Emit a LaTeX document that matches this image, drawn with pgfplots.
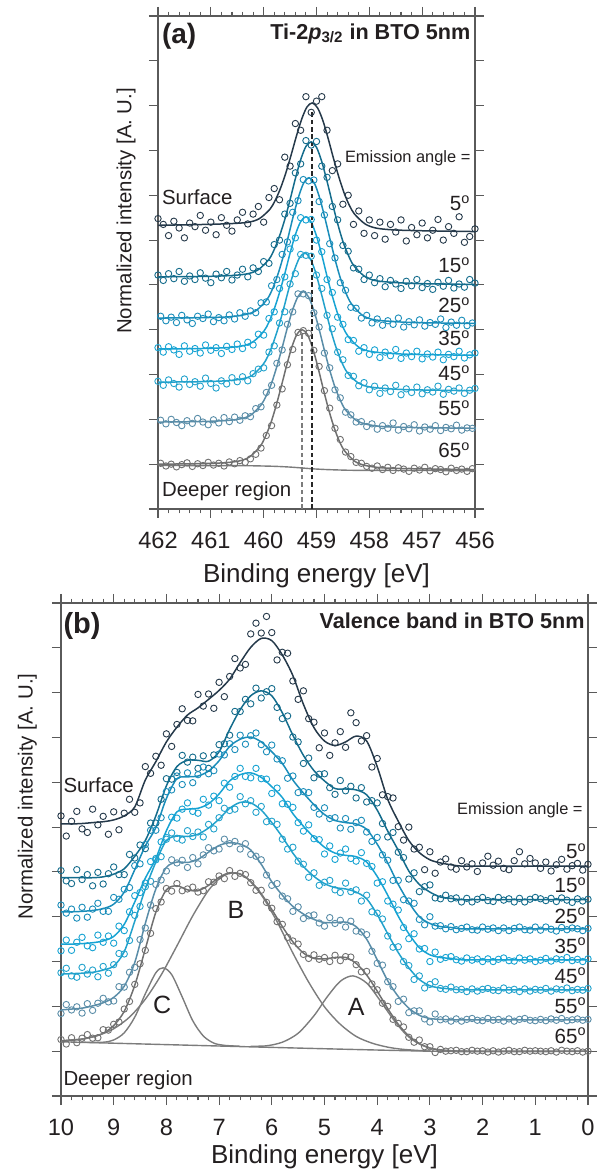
\documentclass[border=0pt]{standalone}
\usepackage{fontspec}
\setmainfont{Liberation Sans}
\usepackage{xcolor}
\usepackage{pgfplots}
\usepackage{pgfplotstable}
\pgfplotsset{compat=1.18}

\definecolor{c5}{HTML}{25394A}
\definecolor{c15}{HTML}{146C8C}
\definecolor{c25}{HTML}{1A8DBA}
\definecolor{c35}{HTML}{17A3D3}
\definecolor{c45}{HTML}{22A2CC}
\definecolor{c55}{HTML}{5A8DA8}
\definecolor{c65}{HTML}{707070}
\definecolor{cgray}{HTML}{7C7C7C}
\definecolor{axgray}{HTML}{5A5A5A}
\definecolor{txt}{HTML}{231F20}

% Ti-2p data, grid with centre 459.1/459.2
\pgfplotstableread{
x a5 a15 a35 a45
462.0 6.48 5.22 3.60 2.85
461.9 6.35 5.10 3.50 2.76
461.8 6.10 5.25 3.62 2.88
461.7 6.42 5.14 3.55 2.80
461.6 6.27 5.30 3.45 2.72
461.5 6.05 5.08 3.64 2.90
461.4 6.38 5.20 3.52 2.78
461.3 6.30 5.12 3.58 2.84
461.2 6.55 5.27 3.48 2.74
461.1 6.22 5.15 3.66 2.92
461.0 6.40 5.05 3.54 2.80
460.9 6.12 5.24 3.60 2.70
460.8 6.50 5.16 3.47 2.86
460.7 6.33 5.30 3.63 2.79
460.6 6.20 5.11 3.56 2.93
460.5 6.45 5.22 3.68 2.84
460.4 6.62 5.35 3.58 2.95
460.3 6.36 5.18 3.72 2.86
460.2 6.58 5.38 3.66 3.02
460.1 6.75 5.30 3.90 3.12
460.0 6.40 5.52 3.88 3.15
459.9 6.95 5.48 4.25 3.50
459.8 7.15 5.90 4.40 3.64
459.7 6.90 6.00 4.92 4.15
459.6 7.85 6.58 5.18 4.40
459.5 7.65 6.82 5.80 5.02
459.4 8.60 7.50 6.05 5.25
459.3 8.45 7.70 6.50 5.68
459.2 9.20 8.22 6.45 5.66
459.1 8.85 8.12 6.46 5.64
459.0 9.10 8.20 6.00 5.22
458.9 9.20 7.65 5.74 4.92
458.8 8.45 7.40 5.12 4.32
458.7 7.55 6.75 4.83 4.02
458.6 7.70 6.45 4.28 3.50
458.5 6.80 5.88 4.12 3.33
458.4 7.00 5.75 3.78 2.98
458.3 6.35 5.38 3.76 2.96
458.2 6.65 5.35 3.52 2.75
458.1 6.15 5.12 3.60 2.82
458.0 6.45 5.22 3.45 2.66
457.9 6.10 5.05 3.55 2.74
457.8 6.40 5.14 3.38 2.58
457.7 6.02 4.96 3.50 2.70
457.6 6.35 5.10 3.42 2.62
457.5 6.18 5.02 3.56 2.76
457.4 6.45 4.92 3.36 2.55
457.3 5.98 5.08 3.48 2.68
457.2 6.28 4.98 3.40 2.60
457.1 6.12 5.12 3.52 2.72
457.0 6.38 4.94 3.35 2.57
456.9 6.05 5.03 3.46 2.66
456.8 6.22 4.90 3.39 2.61
456.7 6.46 5.06 3.50 2.74
456.6 6.00 4.97 3.33 2.56
456.5 6.30 5.10 3.45 2.67
456.4 6.15 4.93 3.40 2.63
456.3 6.52 5.02 3.52 2.70
456.2 5.95 4.95 3.37 2.58
456.1 6.08 5.12 3.44 2.65
456.0 6.25 5.04 3.48 2.69
}\dataAa

% Ti-2p data, grid with centre 459.15/459.25
\pgfplotstableread{
x a25 a55 a65
461.95 4.30 1.98 1.02
461.85 4.20 1.90 0.96
461.75 4.28 2.00 1.00
461.65 4.16 1.93 0.94
461.55 4.32 1.86 0.99
461.45 4.22 1.97 1.03
461.35 4.14 1.91 0.95
461.25 4.30 2.02 1.01
461.15 4.25 1.94 0.97
461.05 4.35 1.88 1.04
460.95 4.18 1.99 0.98
460.85 4.27 1.92 1.02
460.75 4.20 2.04 0.96
460.65 4.33 1.95 1.05
460.55 4.24 2.05 1.01
460.45 4.38 1.98 1.08
460.35 4.30 2.08 1.04
460.25 4.42 2.06 1.12
460.15 4.38 2.24 1.22
460.05 4.60 2.28 1.36
459.95 4.62 2.60 1.64
459.85 4.98 2.76 1.86
459.75 5.12 3.25 2.32
459.65 5.68 3.55 2.68
459.55 5.96 4.12 3.22
459.45 6.62 4.40 3.56
459.35 6.88 4.80 3.94
459.25 7.35 4.80 3.98
459.15 7.32 4.76 3.92
459.05 7.34 4.38 3.54
458.95 6.86 4.06 3.18
458.85 6.56 3.48 2.64
458.75 5.92 3.15 2.25
458.65 5.60 2.66 1.80
458.55 5.05 2.48 1.55
458.45 4.88 2.16 1.27
458.35 4.50 2.10 1.17
458.25 4.48 1.94 1.04
458.15 4.26 1.95 1.02
458.05 4.32 1.84 0.95
457.95 4.15 1.90 0.91
457.85 4.24 1.78 0.96
457.75 4.10 1.86 0.88
457.65 4.20 1.80 0.93
457.55 4.12 1.92 0.86
457.45 4.26 1.76 0.92
457.35 4.06 1.84 0.89
457.25 4.18 1.79 0.84
457.15 4.11 1.88 0.91
457.05 4.22 1.74 0.87
456.95 4.08 1.83 0.93
456.85 4.16 1.78 0.85
456.75 4.12 1.86 0.90
456.65 4.24 1.75 0.88
456.55 4.05 1.82 0.83
456.45 4.17 1.79 0.91
456.35 4.10 1.87 0.86
456.25 4.21 1.76 0.89
456.15 4.09 1.81 0.84
456.05 4.15 1.80 0.90
}\dataAb

% valence band data
\pgfplotstableread{
E d5 d15 d25 d35 d45 d55 d65
10.0 6.25 5.03 4.26 3.24 2.75 1.84 1.26
9.9 5.80 4.80 4.08 3.48 2.85 2.04 1.16
9.8 6.13 4.74 4.17 3.25 2.68 1.92 1.30
9.7 6.35 5.05 3.97 3.43 2.65 1.99 1.19
9.6 5.96 4.83 4.21 3.54 2.87 1.85 1.29
9.5 5.88 4.94 3.99 3.35 2.72 2.06 1.37
9.4 6.40 4.69 4.17 3.31 2.81 1.91 1.29
9.3 6.05 4.99 4.30 3.59 2.66 2.07 1.30
9.2 6.24 4.73 4.12 3.43 2.89 2.18 1.48
9.1 5.84 4.96 4.12 3.57 2.74 2.10 1.47
9.0 6.34 5.11 4.43 3.41 2.93 2.12 1.60
8.9 5.94 4.94 4.39 3.79 3.18 2.44 1.65
8.8 6.31 4.94 4.61 3.69 3.17 2.43 1.94
8.7 6.62 5.39 4.65 4.11 3.47 2.76 2.11
8.6 6.33 5.31 5.14 4.47 4.03 2.87 2.49
8.5 6.54 5.60 5.18 4.54 4.23 3.49 2.95
8.4 7.35 5.52 5.61 4.75 4.67 3.75 3.25
8.3 7.20 6.09 5.93 5.23 4.79 4.26 3.63
8.2 7.58 6.09 5.93 5.27 5.30 4.72 4.18
8.1 7.38 6.62 6.21 5.67 5.34 4.82 4.33
8.0 8.08 7.08 6.79 5.77 5.73 5.02 4.63
7.9 7.80 7.07 6.83 6.22 5.87 5.27 4.57
7.8 8.29 7.22 7.14 6.20 5.75 5.20 4.74
7.7 8.64 7.60 6.95 6.40 5.71 5.26 4.58
7.6 8.38 7.45 7.21 6.54 5.92 5.10 4.62
7.5 8.37 7.56 6.99 6.35 5.79 5.32 4.66
7.4 8.96 7.31 7.17 6.31 5.89 5.18 4.55
7.3 8.70 7.59 7.34 6.62 5.78 5.38 4.58
7.2 8.97 7.31 7.19 6.49 6.06 5.54 4.78
7.1 8.65 7.61 7.26 6.69 5.96 5.47 4.77
7.0 9.23 7.84 7.63 6.59 6.21 5.51 4.91
6.9 8.91 7.86 7.61 6.98 6.42 5.73 4.85
6.8 9.36 8.05 7.86 6.89 6.37 5.63 5.03
6.7 9.76 8.58 7.73 7.13 6.40 5.68 4.90
6.6 9.55 8.58 8.05 7.31 6.68 5.51 4.97
6.5 9.63 8.85 7.85 7.13 6.52 5.63 4.94
6.4 10.31 8.75 8.04 7.10 6.59 5.39 4.76
6.3 10.55 9.10 8.10 7.31 6.33 5.35 4.59
6.2 10.33 8.88 7.84 7.08 6.46 5.27 4.59
6.1 10.70 9.02 7.68 7.07 6.12 4.93 4.32
6.0 10.34 9.09 7.83 6.75 6.13 4.70 4.19
5.9 9.73 8.67 7.52 6.87 6.06 4.74 3.89
5.8 9.90 8.42 7.48 6.52 5.73 4.46 3.83
5.7 9.88 8.48 7.09 6.51 5.51 4.40 3.54
5.6 9.26 8.01 7.14 6.44 5.55 4.12 3.46
5.5 8.85 7.90 6.77 6.10 5.24 4.22 3.39
5.4 9.04 7.42 6.79 5.91 5.17 3.96 3.16
5.3 8.42 7.54 6.77 6.05 4.88 4.02 3.07
5.2 8.34 7.10 6.44 5.74 4.98 4.04 3.15
5.1 7.77 7.18 6.29 5.72 4.70 3.86 3.05
5.0 8.10 7.19 6.43 5.40 4.77 3.79 3.09
4.9 7.60 6.88 6.19 5.58 4.81 3.98 3.00
4.8 7.88 6.73 6.21 5.28 4.60 3.85 3.14
4.7 8.13 7.04 5.98 5.42 4.54 3.92 3.02
4.6 7.78 6.81 6.19 5.51 4.75 3.77 3.11
4.5 8.55 6.91 5.95 5.30 4.56 3.90 3.10
4.4 8.33 6.65 6.10 5.24 4.60 3.68 2.93
4.3 7.92 6.88 6.15 5.43 4.35 3.66 2.77
4.2 8.04 6.56 5.89 5.19 4.48 3.60 2.78
4.1 7.34 6.59 5.68 5.12 4.11 3.23 2.50
4.0 7.53 6.54 5.77 4.75 4.08 2.96 2.37
3.9 6.72 6.08 5.38 4.78 3.95 2.92 2.07
3.8 6.68 5.78 5.26 4.35 3.57 2.55 2.00
3.7 6.65 5.88 4.81 4.28 3.32 2.44 1.71
3.6 6.01 5.44 4.81 4.15 3.33 2.11 1.62
3.5 5.71 5.32 4.38 3.76 3.00 2.16 1.54
3.4 6.00 4.84 4.35 3.51 2.91 1.86 1.31
3.3 5.51 4.98 4.30 3.62 2.60 1.90 1.20
3.2 5.55 4.56 3.94 3.28 2.68 1.90 1.25
3.1 5.05 4.67 3.82 3.29 2.41 1.72 1.10
3.0 5.45 4.71 4.00 3.00 2.49 1.65 1.10
2.9 4.97 4.42 3.79 3.21 2.55 1.83 0.97
2.8 5.22 4.40 3.80 3.05 2.40 1.70 1.04
2.7 5.29 4.48 3.73 3.09 2.38 1.72 1.00
2.6 5.11 4.40 3.78 3.11 2.43 1.67 1.01
2.5 5.06 4.42 3.71 3.04 2.37 1.72 1.02
2.4 5.25 4.33 3.74 3.01 2.38 1.67 0.99
2.3 5.11 4.41 3.77 3.08 2.33 1.71 0.99
2.2 5.18 4.33 3.71 3.03 2.39 1.73 1.02
2.1 5.01 4.39 3.70 3.06 2.34 1.69 1.00
2.0 5.20 4.43 3.77 3.00 2.38 1.68 1.01
1.9 5.35 4.36 3.72 3.06 2.40 1.73 0.98
1.8 5.15 4.34 3.75 3.00 2.36 1.69 1.01
1.7 5.24 4.43 3.69 3.05 2.35 1.71 0.98
1.6 5.08 4.37 3.75 3.08 2.41 1.67 1.00
1.5 5.05 4.40 3.69 3.02 2.36 1.72 1.02
1.4 5.25 4.33 3.74 3.01 2.38 1.67 0.99
1.3 5.45 4.41 3.77 3.08 2.33 1.71 0.99
1.2 5.18 4.33 3.71 3.03 2.39 1.73 1.02
1.1 5.30 4.39 3.70 3.06 2.34 1.69 1.00
1.0 5.20 4.43 3.77 3.00 2.38 1.68 1.01
0.9 5.08 4.40 3.70 3.03 2.36 1.71 1.00
0.8 5.22 4.36 3.77 3.07 2.40 1.68 0.99
0.7 5.02 4.41 3.72 3.01 2.34 1.72 1.01
0.6 5.16 4.34 3.68 3.06 2.39 1.69 0.98
0.5 5.28 4.42 3.76 3.04 2.37 1.73 1.02
0.4 5.06 4.37 3.71 3.09 2.41 1.68 1.00
0.3 5.14 4.32 3.75 3.02 2.35 1.70 0.99
0.2 5.19 4.40 3.73 3.05 2.38 1.72 1.01
0.1 5.04 4.35 3.69 3.00 2.36 1.69 0.98
0.0 5.17 4.39 3.74 3.06 2.40 1.71 1.00
}\dataB

% valence band fits
\pgfplotstableread{
E f5 f15 f25 f35 f45 f55 f65
10.0 6.07 4.87 4.11 3.39 2.72 1.92 1.23
9.8 6.07 4.87 4.11 3.39 2.73 1.94 1.25
9.6 6.08 4.87 4.12 3.40 2.74 1.96 1.27
9.4 6.10 4.87 4.14 3.42 2.76 2.01 1.32
9.2 6.12 4.89 4.18 3.46 2.81 2.08 1.40
9.0 6.16 4.95 4.28 3.56 2.90 2.20 1.57
8.8 6.25 5.07 4.55 3.83 3.22 2.45 1.89
8.6 6.45 5.35 5.05 4.33 3.90 2.98 2.47
8.4 7.05 5.70 5.58 4.86 4.62 3.85 3.28
8.2 7.46 6.25 5.99 5.30 5.22 4.62 4.10
8.0 7.90 6.92 6.64 5.92 5.70 5.10 4.60
7.8 8.23 7.35 7.08 6.34 5.80 5.22 4.69
7.6 8.50 7.49 7.12 6.40 5.79 5.21 4.60
7.4 8.66 7.49 7.14 6.42 5.84 5.28 4.58
7.2 8.85 7.47 7.25 6.52 5.98 5.44 4.70
7.0 9.05 7.68 7.48 6.74 6.18 5.59 4.88
6.8 9.30 8.18 7.80 7.03 6.42 5.65 4.98
6.6 9.67 8.62 7.96 7.17 6.55 5.62 4.95
6.4 10.01 8.93 8.01 7.21 6.54 5.49 4.79
6.2 10.21 9.04 7.90 7.11 6.38 5.17 4.51
6.0 10.16 8.93 7.68 6.90 6.10 4.78 4.16
5.8 9.84 8.55 7.42 6.66 5.78 4.48 3.78
5.6 9.38 8.05 7.05 6.30 5.42 4.23 3.44
5.4 8.74 7.60 6.76 6.02 5.12 4.06 3.19
5.2 8.22 7.26 6.50 5.77 4.90 3.94 3.07
5.0 7.92 7.03 6.28 5.55 4.74 3.87 3.06
4.8 7.82 6.86 6.15 5.42 4.65 3.87 3.09
4.6 7.90 6.85 6.10 5.37 4.62 3.88 3.09
4.4 8.03 6.83 6.07 5.34 4.55 3.78 2.96
4.2 7.92 6.72 5.95 5.22 4.40 3.50 2.70
4.0 7.35 6.38 5.62 4.90 4.05 3.04 2.34
3.8 6.62 5.91 5.20 4.48 3.62 2.57 1.95
3.6 6.13 5.48 4.72 4.01 3.20 2.22 1.60
3.4 5.70 5.02 4.32 3.62 2.86 1.96 1.34
3.2 5.43 4.72 4.00 3.31 2.60 1.80 1.17
3.0 5.27 4.55 3.85 3.15 2.46 1.73 1.07
2.8 5.20 4.44 3.78 3.09 2.41 1.71 1.03
2.6 5.16 4.41 3.76 3.07 2.39 1.70 1.01
2.4 5.13 4.38 3.73 3.04 2.37 1.70 1.00
2.0 5.13 4.38 3.73 3.04 2.37 1.70 1.00
1.0 5.13 4.38 3.73 3.04 2.37 1.70 1.00
0.0 5.13 4.38 3.73 3.04 2.37 1.70 1.00
}\fitB

\pgfplotsset{
  xps/.style={
    scale only axis, x dir=reverse, clip=false,
    ymin=0, ymax=11, ytick={0,...,11}, yticklabels={},
    minor x tick num=4,
    tick align=outside,
    major tick length=4.5pt, minor tick length=2.2pt,
    axis line style={draw=axgray, line width=0.6pt},
    tick style={draw=axgray, line width=0.55pt},
    xticklabel style={font=\fontsize{11.8}{12}\selectfont, text=txt, inner sep=0pt, anchor=north, yshift=-7pt},
    /pgf/number format/assume math mode=true,
  },
  dat/.style={only marks, mark=o, mark size=1.6pt, draw=#1, mark options={draw=#1, line width=0.45pt}},
  fit/.style={smooth, no marks, line width=0.75pt, draw=#1},
  comp/.style={smooth, no marks, line width=0.7pt, draw=cgray},
}
\tikzset{lab/.style={inner sep=0pt, text=txt}}

\newcommand{\ang}[1]{#1\textsuperscript{o}}

\begin{document}
\begin{tikzpicture}
\useasboundingbox (-30.5pt,-38.5pt) rectangle (270.5pt,548pt);

% ---------------- (a) Ti-2p3/2 ----------------
\begin{axis}[xps, at={(48.5pt,293.5pt)}, anchor=south west,
  width=158.5pt, height=246.5pt,
  xmin=456, xmax=462, xtick={456,...,462}]

\addplot[dat=c5]  table[x=x, y=a5]  {\dataAa};
\addplot[dat=c15] table[x=x, y=a15] {\dataAa};
\addplot[dat=c25] table[x=x, y=a25] {\dataAb};
\addplot[dat=c35] table[x=x, y=a35] {\dataAa};
\addplot[dat=c45] table[x=x, y=a45] {\dataAa};
\addplot[dat=c55] table[x=x, y=a55] {\dataAb};
\addplot[dat=c65] table[x=x, y=a65] {\dataAb};

\addplot[fit=c5] coordinates {(462,6.33) (461.08,6.35) (460.58,6.37) (460.28,6.40) (460.08,6.48) (459.88,6.69) (459.78,6.89) (459.68,7.16) (459.58,7.50) (459.48,7.90) (459.38,8.32) (459.28,8.70) (459.18,8.97) (459.08,9.06) (458.98,8.95) (458.88,8.67) (458.78,8.27) (458.68,7.83) (458.58,7.42) (458.48,7.06) (458.38,6.78) (458.28,6.58) (458.08,6.36) (457.88,6.27) (457.58,6.23) (457.08,6.21) (456,6.19)};
\addplot[fit=c15] coordinates {(462,5.18) (461.10,5.19) (460.60,5.21) (460.30,5.25) (460.10,5.34) (459.90,5.57) (459.80,5.79) (459.70,6.09) (459.60,6.46) (459.50,6.90) (459.40,7.37) (459.30,7.79) (459.20,8.09) (459.10,8.19) (459.00,8.07) (458.90,7.75) (458.80,7.31) (458.70,6.83) (458.60,6.37) (458.50,5.97) (458.40,5.67) (458.30,5.44) (458.10,5.20) (457.90,5.10) (457.60,5.06) (457.10,5.03) (456,5.01)};
\addplot[fit=c25] coordinates {(462,4.26) (461.14,4.27) (460.64,4.29) (460.34,4.34) (460.14,4.43) (459.94,4.67) (459.84,4.89) (459.74,5.20) (459.64,5.59) (459.54,6.05) (459.44,6.53) (459.34,6.96) (459.24,7.28) (459.14,7.39) (459.04,7.27) (458.94,6.94) (458.84,6.49) (458.74,6.00) (458.64,5.53) (458.54,5.12) (458.44,4.81) (458.34,4.58) (458.14,4.33) (457.94,4.23) (457.64,4.19) (457.14,4.16) (456,4.14)};
\addplot[fit=c35] coordinates {(462,3.57) (461.20,3.58) (460.70,3.60) (460.40,3.64) (460.20,3.73) (460.00,3.96) (459.90,4.17) (459.80,4.46) (459.70,4.83) (459.60,5.25) (459.50,5.71) (459.40,6.12) (459.30,6.41) (459.20,6.52) (459.10,6.40) (459.00,6.09) (458.90,5.67) (458.80,5.19) (458.70,4.75) (458.60,4.36) (458.50,4.06) (458.40,3.85) (458.20,3.61) (458.00,3.52) (457.70,3.48) (457.20,3.45) (456,3.43)};
\addplot[fit=c45] coordinates {(462,2.83) (461.22,2.84) (460.72,2.86) (460.42,2.90) (460.22,2.98) (460.02,3.21) (459.92,3.41) (459.82,3.70) (459.72,4.06) (459.62,4.48) (459.52,4.93) (459.42,5.32) (459.32,5.61) (459.22,5.71) (459.12,5.59) (459.02,5.29) (458.92,4.86) (458.82,4.40) (458.72,3.95) (458.62,3.57) (458.52,3.27) (458.42,3.05) (458.22,2.82) (458.02,2.73) (457.72,2.69) (457.22,2.66) (456,2.64)};
\addplot[fit=c55] coordinates {(462,1.94) (461.25,1.95) (460.75,1.97) (460.45,2.01) (460.25,2.09) (460.05,2.32) (459.95,2.53) (459.85,2.81) (459.75,3.18) (459.65,3.60) (459.55,4.05) (459.45,4.45) (459.35,4.74) (459.25,4.85) (459.15,4.73) (459.05,4.43) (458.95,4.01) (458.85,3.54) (458.75,3.10) (458.65,2.72) (458.55,2.43) (458.45,2.21) (458.25,1.98) (458.05,1.89) (457.75,1.84) (457.25,1.82) (456,1.80)};
\addplot[fit=c65] coordinates {(462,1.00) (461.27,1.01) (460.77,1.03) (460.47,1.07) (460.27,1.16) (460.07,1.39) (459.97,1.61) (459.87,1.90) (459.77,2.28) (459.67,2.72) (459.57,3.18) (459.47,3.60) (459.37,3.90) (459.27,4.00) (459.17,3.89) (459.07,3.58) (458.97,3.15) (458.87,2.67) (458.77,2.22) (458.67,1.83) (458.57,1.52) (458.47,1.30) (458.27,1.06) (458.07,0.97) (457.77,0.92) (457.27,0.90) (456,0.88)};
% Shirley background of the 65 deg spectrum
\addplot[comp] coordinates {(462,0.97) (460.77,0.968) (460.27,0.965) (459.87,0.955) (459.67,0.946) (459.47,0.933) (459.27,0.915) (459.07,0.896) (458.87,0.883) (458.67,0.874) (458.47,0.867) (458.27,0.863) (457.27,0.859) (456,0.857)};

% peak positions
\addplot[draw=black!85, line width=0.9pt, dash pattern=on 2.3pt off 1.4pt] coordinates {(459.08,0) (459.08,8.86)};
\addplot[draw=cgray, line width=0.9pt, dash pattern=on 2.3pt off 1.4pt] coordinates {(459.27,0) (459.27,3.95)};

\node[lab, anchor=base west, font=\bfseries\fontsize{14}{14}\selectfont] at (axis cs:461.93,10.39) {(a)};
\node[lab, anchor=base east, font=\bfseries\fontsize{10.8}{11}\selectfont] at (axis cs:456.08,10.48) {Ti-2\textit{p}\textsubscript{3/2} in BTO 5nm};
\node[lab, anchor=base east, font=\fontsize{8.2}{9}\selectfont] at (axis cs:456.08,7.72) {Emission angle =};
\node[lab, anchor=base west, font=\fontsize{10.2}{11}\selectfont] at (axis cs:461.93,6.80) {Surface};
\node[lab, anchor=base west, font=\fontsize{10.2}{11}\selectfont] at (axis cs:461.93,0.27) {Deeper region};
\begin{scope}[every node/.style={lab, anchor=base east, font=\fontsize{10.3}{11}\selectfont}]
\node at (axis cs:456.08,6.66) {\ang{5}};
\node at (axis cs:456.08,5.28) {\ang{15}};
\node at (axis cs:456.08,4.38) {\ang{25}};
\node at (axis cs:456.08,3.65) {\ang{35}};
\node at (axis cs:456.08,2.87) {\ang{45}};
\node at (axis cs:456.08,2.09) {\ang{55}};
\node at (axis cs:456.08,1.15) {\ang{65}};
\end{scope}
\node[lab, rotate=90, font=\fontsize{10.2}{11}\selectfont] at (axis cs:462.606,6.65) {Normalized intensity [A. U.]};
\node[lab, anchor=base, font=\fontsize{13}{13}\selectfont] at (axis cs:459,-1.629) {Binding energy [eV]};
\end{axis}

% ---------------- (b) valence band ----------------
\begin{axis}[xps, at={(0pt,0pt)}, anchor=south west,
  width=263.5pt, height=246.5pt,
  xmin=0, xmax=10, xtick={0,...,10}]

\addplot[dat=c5]  table[x=E, y=d5]  {\dataB};
\addplot[dat=c15] table[x=E, y=d15] {\dataB};
\addplot[dat=c25] table[x=E, y=d25] {\dataB};
\addplot[dat=c35] table[x=E, y=d35] {\dataB};
\addplot[dat=c45] table[x=E, y=d45] {\dataB};
\addplot[dat=c55] table[x=E, y=d55] {\dataB};
\addplot[dat=c65] table[x=E, y=d65] {\dataB};

\addplot[fit=c5]  table[x=E, y=f5]  {\fitB};
\addplot[fit=c15] table[x=E, y=f15] {\fitB};
\addplot[fit=c25] table[x=E, y=f25] {\fitB};
\addplot[fit=c35] table[x=E, y=f35] {\fitB};
\addplot[fit=c45] table[x=E, y=f45] {\fitB};
\addplot[fit=c55] table[x=E, y=f55] {\fitB};
\addplot[fit=c65] table[x=E, y=f65] {\fitB};

% background and components A, B, C of the 65 deg spectrum
\addplot[comp, smooth=false] coordinates {(10,1.21) (3.0,1.00) (0,1.00)};
\addplot[comp] coordinates {(9.6,1.20) (9.2,1.20) (9.0,1.25) (8.8,1.41) (8.6,1.76) (8.4,2.28) (8.2,2.75) (8.06,2.86) (7.9,2.71) (7.7,2.21) (7.5,1.68) (7.3,1.34) (7.1,1.18) (6.9,1.13) (6.6,1.11)};
\addplot[comp] coordinates {(9.9,1.24) (9.6,1.27) (9.3,1.35) (9.0,1.50) (8.7,1.76) (8.4,2.16) (8.1,2.70) (7.8,3.35) (7.5,4.02) (7.2,4.59) (6.95,4.89) (6.72,4.98) (6.5,4.89) (6.2,4.49) (5.9,3.89) (5.6,3.19) (5.3,2.54) (5.0,1.99) (4.7,1.60) (4.4,1.33) (4.1,1.18) (3.8,1.09) (3.5,1.04) (3.0,1.00)};
\addplot[comp] coordinates {(6.4,1.11) (6.1,1.12) (5.8,1.20) (5.5,1.40) (5.2,1.79) (4.95,2.21) (4.7,2.56) (4.46,2.68) (4.2,2.52) (3.95,2.14) (3.7,1.72) (3.45,1.37) (3.2,1.16) (2.9,1.04) (2.6,1.01) (2.3,1.00)};

\node[lab, anchor=base west, font=\bfseries\fontsize{14.5}{15}\selectfont] at (axis cs:9.96,10.33) {(b)};
\node[lab, anchor=base east, font=\bfseries\fontsize{10.8}{11}\selectfont] at (axis cs:0.057,10.44) {Valence band in BTO 5nm};
\node[lab, anchor=base east, font=\fontsize{8.2}{9}\selectfont] at (axis cs:0.095,6.27) {Emission angle =};
\node[lab, anchor=base west, font=\fontsize{10.2}{11}\selectfont] at (axis cs:9.96,6.78) {Surface};
\node[lab, anchor=base west, font=\fontsize{10.2}{11}\selectfont] at (axis cs:9.96,0.245) {Deeper region};
\begin{scope}[every node/.style={lab, anchor=base east, font=\fontsize{10.3}{11}\selectfont}]
\node at (axis cs:0.02,5.29) {\ang{5}};
\node at (axis cs:0.02,4.53) {\ang{15}};
\node at (axis cs:0.02,3.86) {\ang{25}};
\node at (axis cs:0.02,3.19) {\ang{35}};
\node at (axis cs:0.02,2.52) {\ang{45}};
\node at (axis cs:0.02,1.85) {\ang{55}};
\node at (axis cs:0.02,1.18) {\ang{65}};
\end{scope}
\begin{scope}[every node/.style={lab, font=\fontsize{12.5}{13}\selectfont}]
\node at (axis cs:4.40,1.99) {A};
\node at (axis cs:6.68,4.15) {B};
\node at (axis cs:8.08,2.03) {C};
\end{scope}
\node[lab, rotate=90, font=\fontsize{10.2}{11}\selectfont] at (axis cs:10.64,6.68) {Normalized intensity [A. U.]};
\node[lab, anchor=base, font=\fontsize{13}{13}\selectfont] at (axis cs:5.0,-1.517) {Binding energy [eV]};
\end{axis}
\end{tikzpicture}
\end{document}
